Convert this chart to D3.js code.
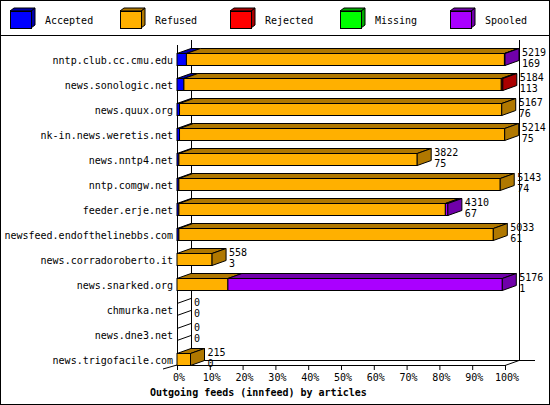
<!DOCTYPE html><html><head><script src="https://d3js.org/d3.v7.min.js"></script>
<style>body{margin:0;background:#fff}text{font-family:"DejaVu Sans Mono",monospace;font-size:10px}</style></head><body>
<svg id="c" width="550" height="405"></svg>
<script>
const hosts=["nntp.club.cc.cmu.edu","news.sonologic.net","news.quux.org","nk-in.news.weretis.net","news.nntp4.net","nntp.comgw.net","feeder.erje.net","newsfeed.endofthelinebbs.com","news.corradoroberto.it","news.snarked.org","chmurka.net","news.dne3.net","news.trigofacile.com"];
const series=["Accepted","Refused","Rejected","Missing","Spooled"];
const accepted=[150,110,40,40,30,30,30,30,0,0,0,0,0];
const refused=[5060,5050,5127,5174,3792,5113,4240,5003,558,810,0,0,215];
const rejected=[0,24,0,0,0,0,0,0,0,0,0,0,0];
const missing=[0,0,0,0,0,0,0,0,0,0,0,0,0];
const spooled=[9,0,0,0,0,0,40,0,0,4366,0,0,0];
const totals=[5219,5184,5167,5214,3822,5143,4310,5033,558,5176,0,0,215];
const second=[169,113,76,75,75,74,67,61,3,1,0,0,0];
const ticks=[0,10,20,30,40,50,60,70,80,90,100];
const front=["#0000ff","#ffb000","#ff0000","#00ff00","#aa00ff"];
const side=["#0000aa","#b07800","#aa0000","#00aa00","#7000aa"];
const svg=d3.select("#c");
const dx=14,dy=5,bh=12,max=d3.max(totals);
svg.append("rect").attr("x",0.5).attr("y",0.5).attr("width",549).attr("height",404).attr("fill","none").attr("stroke","#000");
svg.append("line").attr("x1",0).attr("x2",550).attr("y1",35.5).attr("y2",35.5).attr("stroke","#000");
// legend
const lx=[10,120,230,340,450];
series.forEach((s,i)=>{const g=svg.append("g");const x=lx[i],y=10;
 g.append("path").attr("d",`M${x+21},${y+1}L${x+25},${y-2}L${x+25},${y+15}L${x+21},${y+18}Z`).attr("fill",side[i]).attr("stroke","#000");
 g.append("path").attr("d",`M${x},${y+1}L${x+4},${y-2}L${x+25},${y-2}L${x+21},${y+1}Z`).attr("fill",side[i]).attr("stroke","#000");
 g.append("rect").attr("x",x+.5).attr("y",y+1.5).attr("width",21).attr("height",17).attr("fill",front[i]).attr("stroke","#000");
 g.append("text").attr("x",x+35).attr("y",y+14).attr("font-size","10.5px").text(s);});
const x=d3.scaleLinear().domain([0,100]).range([177,505]);
const y=d3.scaleBand().domain(hosts).range([47,372]);
// frame
const L=(a,b,c,d)=>svg.append("line").attr("x1",a).attr("y1",b).attr("x2",c).attr("y2",d).attr("stroke","#000");
L(191.5,40,191.5,360.5);L(191,360.5,535,360.5);L(519.5,40,519.5,360.5);L(163,369,177,365);L(177.5,45,177.5,365.5);L(177,365.5,505,365.5);L(505,365.5,519,360.5);
ticks.forEach(t=>{L(x(t)+.5,365,x(t)+.5,370);svg.append("text").attr("x",x(t)+2).attr("y",381).attr("text-anchor","middle").text(t+"%");});
svg.append("text").attr("x",150).attr("y",396).attr("font-weight","bold").attr("font-size","11.6px").text("Outgoing feeds (innfeed) by articles");
const data=[accepted,refused,rejected,missing,spooled];
hosts.forEach((h,r)=>{
 const top=Math.round(y(h)+6)+.5;
 svg.append("text").attr("x",173).attr("y",top+10).attr("text-anchor","end").text(h);
 let acc=0,last=1,segs=[];
 data.forEach((d,i)=>{if(d[r]>0){const x0=x(acc/max*100),x1=x((acc+d[r])/max*100);segs.push([x0,x1,i]);acc+=d[r];last=i;}});
 segs.forEach(([x0,x1,i])=>{
  svg.append("path").attr("d",`M${x0},${top}L${x0+dx},${top-dy}L${x1+dx},${top-dy}L${x1},${top}Z`).attr("fill",side[i]).attr("stroke","#000");
  svg.append("rect").attr("x",x0).attr("y",top).attr("width",x1-x0).attr("height",bh).attr("fill",front[i]).attr("stroke","#000");});
 const xe=x(acc/max*100);
 if(segs.length) svg.append("path").attr("d",`M${xe},${top}L${xe+dx},${top-dy}L${xe+dx},${top+bh-dy}L${xe},${top+bh}Z`).attr("fill",side[last]).attr("stroke","#000");
 else {L(177,top,191,top-dy);L(177,top+bh,191,top+bh-dy);}
 svg.append("text").attr("x",xe+dx+3).attr("y",top+2).text(totals[r]);
 svg.append("text").attr("x",xe+dx+3).attr("y",top+13).text(second[r]);
});
</script></body></html>
